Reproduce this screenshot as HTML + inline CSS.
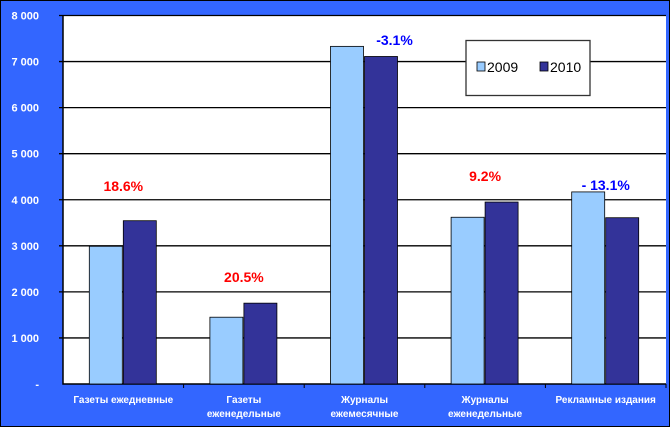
<!DOCTYPE html>
<html><head><meta charset="utf-8"><style>
body{margin:0;background:#3366ff;}
svg{display:block;font-family:"Liberation Sans",Arial,sans-serif;}
</style></head><body>
<svg id="c" width="670" height="427">
<rect x="0.5" y="0.5" width="669" height="426" fill="#3366ff" stroke="#000"/>
<rect x="63" y="15.5" width="603" height="368.5" fill="#fff"/>
<g id="g"></g>
</svg>
<script>
const categories=[["Газеты ежедневные"],["Газеты","еженедельные"],["Журналы","ежемесячные"],["Журналы","еженедельные"],["Рекламные издания"]];
const v2009=[2990,1450,7330,3620,4170];
const v2010=[3545,1755,7110,3950,3610];
const changes=["18.6%","20.5%","-3.1%","9.2%","- 13.1%"];
const changeColors=["#ff0000","#ff0000","#0000ff","#ff0000","#0000ff"];
const changeLabelLevels=[4190,2215,7360,4410,4210];
const ticks=[0,1000,2000,3000,4000,5000,6000,7000,8000];
const tickLabels=["-","1 000","2 000","3 000","4 000","5 000","6 000","7 000","8 000"];
const NS="http://www.w3.org/2000/svg",g=document.getElementById('g');
const x0=63,x1=666,y0=384,y1=15.5,ymax=8000;
const y=v=>y0-(v/ymax)*(y0-y1);
const cw=(x1-x0)/categories.length;
function mk(t,a,txt){const e=document.createElementNS(NS,t);for(const k in a)e.setAttribute(k,a[k]);if(txt!=null)e.textContent=txt;g.appendChild(e);return e;}
ticks.forEach((t,i)=>{
 if(t>0){const l=mk('line',{x1:x0-4,x2:x1,y1:y(t),y2:y(t),stroke:'#000','stroke-width':1.3});
 
 }
 const tx=mk('text',{x:39,y:y(t)+4,fill:'#fff','font-size':11,'font-weight':'bold','text-anchor':'end'},tickLabels[i]);
 
 
});
const ax=mk('path',{d:`M${x0} ${y1}V${y0}H${x1}`,fill:'none',stroke:'#000','stroke-width':1.5});


categories.forEach((c,i)=>{
 const cx=x0+cw*i+cw/2;
 mk('line',{x1:x0+cw*(i+1),x2:x0+cw*(i+1),y1:y0,y2:y0+4,stroke:'#000'});
 const b1=mk('rect',{x:cx-34,y:y(v2009[i]),width:33,height:y0-y(v2009[i]),fill:'#99ccff',stroke:'#000','stroke-width':0.8});
 
 
 const b2=mk('rect',{x:cx,y:y(v2010[i]),width:33,height:y0-y(v2010[i]),fill:'#333399',stroke:'#000','stroke-width':0.8});
 
 
 const lab=mk('text',{x:cx+(i==2?30:0),y:y(changeLabelLevels[i]),fill:changeColors[i],'font-size':14,'font-weight':'bold','text-anchor':'middle'},changes[i]);
 
 
 c.forEach((s,j)=>{const t=mk('text',{x:cx,y:403+j*14,fill:'#fff','font-size':10,'font-weight':'bold','text-anchor':'middle'},s);
 
 });
});
const lg=mk('rect',{x:466,y:40.5,width:124,height:55,fill:'#fff',stroke:'#333','stroke-width':1.3});


[["2009","#99ccff",477],["2010","#333399",540]].forEach(([n,col,lx])=>{
 const r=mk('rect',{x:lx,y:62,width:8,height:9,fill:col,stroke:'#000','stroke-width':0.8});
 
 
 const t=mk('text',{x:lx+10,y:72,fill:'#000','font-size':14},n);
 
 
});
</script>
</body></html>
